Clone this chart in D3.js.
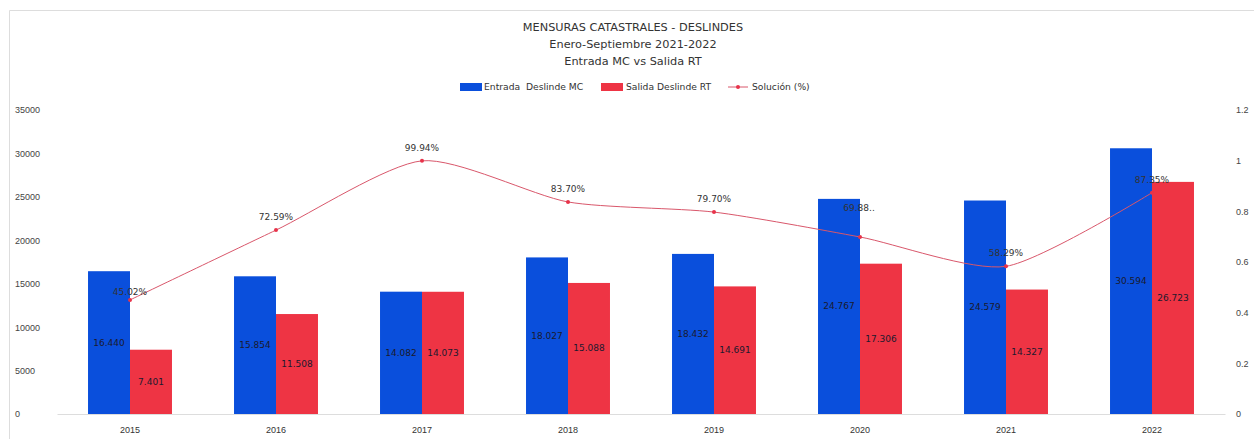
<!DOCTYPE html>
<html lang="es">
<head>
  <meta charset="UTF-8">
  <title>Mensuras Catastrales - Deslindes</title>
  <style type="text/css">
    body{
      margin: 0;
      background: #fff;
      font-family: "DejaVu Sans", sans-serif;
    }
    .title{
      font-size: 11.3px;
      fill: #333;
      text-anchor: middle;
    }
    .axis text{
      font-size: 9px;
      fill: #444;
    }
    .legend text{
      font-size: 9.2px;
      fill: #333;
    }
    .val{
      font-size: 9px;
      fill: #1a1a2e;
      text-anchor: middle;
    }
    .pct{
      font-size: 9px;
      fill: #333;
      text-anchor: middle;
    }
  </style>
  <script src="https://cdn.jsdelivr.net/npm/d3@7"></script>
</head>
<body>
<script type="text/javascript">
  // data
  var years = ['2015', '2016', '2017', '2018', '2019', '2020', '2021', '2022'];
  var entrada = [16440, 15854, 14082, 18027, 18432, 24767, 24579, 30594];
  var salida = [7401, 11508, 14073, 15088, 14691, 17306, 14327, 26723];
  var solucion = [0.4502, 0.7259, 0.9994, 0.8370, 0.7970, 0.6988, 0.5829, 0.8735];
  var solLabels = ['45.02%', '72.59%', '99.94%', '83.70%', '79.70%', '69.88..', '58.29%', '87.35%'];
  var leftTicks = [0, 5000, 10000, 15000, 20000, 25000, 30000, 35000];
  var rightTicks = [0, 0.2, 0.4, 0.6, 0.8, 1, 1.2];
  var titles = ['MENSURAS CATASTRALES - DESLINDES', 'Enero-Septiembre 2021-2022', 'Entrada MC vs Salida RT'];

  var W = 1254, H = 439;
  var blue = '#0a4fdc', red = '#ee3444', lineCol = '#d9576b';

  var svg = d3.select('body')
    .append('svg')
    .attr('width', W)
    .attr('height', H);

  // light frame (top + left)
  svg.append('line').attr('x1', 9.5).attr('x2', W).attr('y1', 10.5).attr('y2', 10.5)
    .attr('stroke', '#ddd');
  svg.append('line').attr('x1', 9.5).attr('x2', 9.5).attr('y1', 10.5).attr('y2', H)
    .attr('stroke', '#ddd');

  svg.selectAll('.title')
    .data(titles)
    .enter().append('text')
    .attr('class', 'title')
    .attr('x', 633)
    .attr('y', function(d, i){ return 31 + i * 17; })
    .text(function(d){ return d; });

  var xScale = d3.scaleBand()
    .domain(years)
    .range([57, 1225])
    .paddingInner(0.425)
    .paddingOuter(0.2125);

  var xSub = d3.scaleBand()
    .domain(['e', 's'])
    .range([0, xScale.bandwidth()]);

  var yScale = d3.scaleLinear()
    .domain([0, 35000])
    .range([414, 110]);

  var y2Scale = d3.scaleLinear()
    .domain([0, 1.2])
    .range([414, 110]);

  // left axis
  var yAxis = d3.axisLeft(yScale).tickValues(leftTicks).tickSize(0).tickFormat(d3.format('d'));
  var gy = svg.append('g').attr('class', 'axis').attr('transform', 'translate(15,0)').call(yAxis);
  gy.select('.domain').remove();
  gy.selectAll('text').attr('text-anchor', 'start').attr('x', 0).attr('dy', '0.32em');

  // right axis
  var y2Axis = d3.axisRight(y2Scale).tickValues(rightTicks).tickSize(0).tickFormat(function(d){ return String(d); });
  var gy2 = svg.append('g').attr('class', 'axis').attr('transform', 'translate(1236,0)').call(y2Axis);
  gy2.select('.domain').remove();
  gy2.selectAll('text').attr('x', 0).attr('dy', '0.32em');

  // x axis
  var xAxis = d3.axisBottom(xScale).tickSize(0);
  var gx = svg.append('g').attr('class', 'axis').attr('transform', 'translate(0,414)').call(xAxis);
  gx.select('.domain').attr('stroke', '#ddd');
  gx.selectAll('text').attr('y', 13).style('fill', '#333');

  var groups = svg.selectAll('.grp')
    .data(years)
    .enter().append('g')
    .attr('class', 'grp')
    .attr('transform', function(d){ return 'translate(' + xScale(d) + ',0)'; });

  var fmt = function(v){ return d3.format(',')(v).replace(',', '.'); };

  groups.append('rect')
    .attr('x', xSub('e'))
    .attr('width', xSub.bandwidth())
    .attr('y', function(d, i){ return yScale(entrada[i]); })
    .attr('height', function(d, i){ return yScale(0) - yScale(entrada[i]); })
    .attr('fill', blue);

  groups.append('rect')
    .attr('x', xSub('s'))
    .attr('width', xSub.bandwidth())
    .attr('y', function(d, i){ return yScale(salida[i]); })
    .attr('height', function(d, i){ return yScale(0) - yScale(salida[i]); })
    .attr('fill', red);

  groups.append('text')
    .attr('class', 'val')
    .attr('x', xSub('e') + xSub.bandwidth() / 2)
    .attr('y', function(d, i){ return (yScale(entrada[i]) + yScale(0)) / 2 + 3; })
    .text(function(d, i){ return fmt(entrada[i]); });

  groups.append('text')
    .attr('class', 'val')
    .attr('x', xSub('s') + xSub.bandwidth() / 2)
    .attr('y', function(d, i){ return (yScale(salida[i]) + yScale(0)) / 2 + 3; })
    .text(function(d, i){ return fmt(salida[i]); });

  // solution line
  var cx = function(i){ return xScale(years[i]) + xScale.bandwidth() / 2; };
  var line = d3.line()
    .x(function(d, i){ return cx(i); })
    .y(function(d){ return y2Scale(d); })
    .curve(d3.curveCardinal.tension(0.3));

  svg.append('path')
    .datum(solucion)
    .attr('d', line)
    .attr('fill', 'none')
    .attr('stroke', lineCol)
    .attr('stroke-width', 1);

  svg.selectAll('.dot')
    .data(solucion)
    .enter().append('circle')
    .attr('class', 'dot')
    .attr('cx', function(d, i){ return cx(i); })
    .attr('cy', function(d){ return y2Scale(d); })
    .attr('r', 2)
    .attr('fill', '#e8334a');

  svg.selectAll('.pct')
    .data(solucion)
    .enter().append('text')
    .attr('class', 'pct')
    .attr('x', function(d, i){ return i === 5 ? cx(i) - 1 : cx(i); })
    .attr('y', function(d, i){
      if (i === 5) return y2Scale(d) - 26;
      if (i === 0) return y2Scale(d) - 5;
      return y2Scale(d) - 10;
    })
    .attr('text-anchor', function(d, i){ return i === 5 ? 'start' : 'middle'; })
    .text(function(d, i){ return solLabels[i]; });

  // legend
  var legend = svg.append('g').attr('class', 'legend');
  legend.append('rect').attr('x', 460).attr('y', 83).attr('width', 22).attr('height', 8).attr('fill', blue);
  legend.append('text').attr('x', 484).attr('y', 90).text('Entrada  Deslinde MC').attr('xml:space', 'preserve');
  legend.append('rect').attr('x', 601).attr('y', 83).attr('width', 22).attr('height', 8).attr('fill', red);
  legend.append('text').attr('x', 626).attr('y', 90).text('Salida Deslinde RT');
  legend.append('line').attr('x1', 728).attr('x2', 748).attr('y1', 87).attr('y2', 87).attr('stroke', lineCol);
  legend.append('circle').attr('cx', 738).attr('cy', 87).attr('r', 2).attr('fill', '#e8334a');
  legend.append('text').attr('x', 752).attr('y', 90).text('Solución (%)');
</script>
</body>
</html>
